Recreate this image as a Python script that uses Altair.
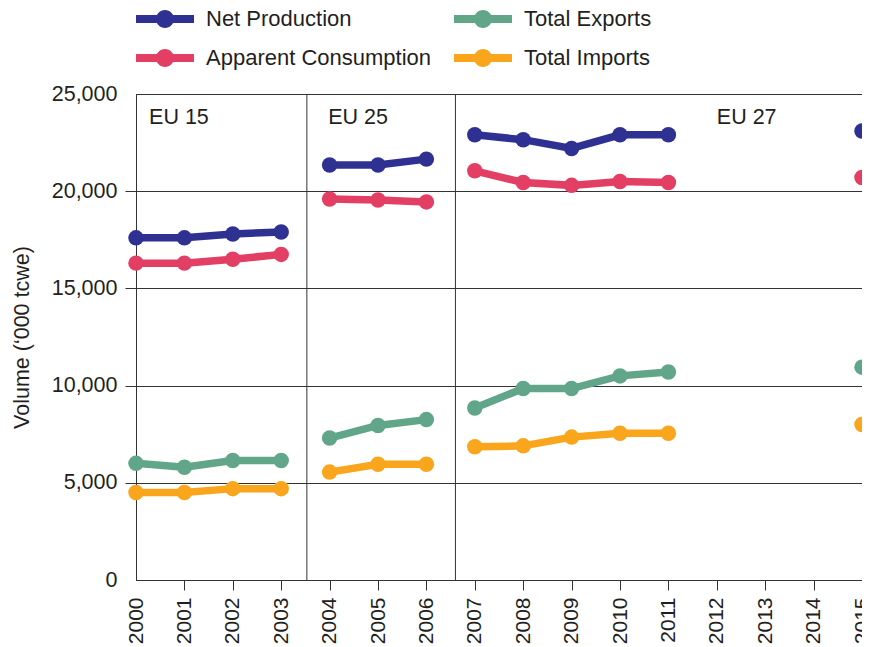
import altair as alt
import pandas as pd

# ---------------- data ----------------
years = [2000, 2001, 2002, 2003, 2004, 2005, 2006, 2007, 2008, 2009, 2010, 2011, 2015]
periods = ["EU 15"] * 4 + ["EU 25"] * 3 + ["EU 27"] * 5 + ["EU 27 (2015)"]

net_production = [17600, 17600, 17800, 17900, 21350, 21350, 21650,
                  22900, 22650, 22200, 22900, 22900, 23100]
apparent_consumption = [16300, 16300, 16500, 16750, 19600, 19550, 19450,
                        21050, 20450, 20300, 20500, 20450, 20700]
total_exports = [6000, 5800, 6150, 6150, 7300, 7950, 8250,
                 8850, 9850, 9850, 10500, 10700, 10950]
total_imports = [4500, 4500, 4700, 4700, 5550, 5950, 5950,
                 6850, 6900, 7350, 7550, 7550, 8000]

# legend order (filled column by column, two columns)
series_names = ["Net Production", "Apparent Consumption", "Total Exports", "Total Imports"]
series_colors = ["#2E3192", "#E33E63", "#62A68A", "#F9A61C"]
# same colours, listed in another order for the line layer's own scale
line_series = ["Apparent Consumption", "Net Production", "Total Exports", "Total Imports"]
line_colors = ["#E33E63", "#2E3192", "#62A68A", "#F9A61C"]

x_tick_years = list(range(2000, 2016))
y_ticks = [0, 5000, 10000, 15000, 20000, 25000]

era_labels = ["EU 15", "EU 25", "EU 27"]
era_label_x = [2000.27, 2003.97, 2012.0]
era_label_y = [23470, 23470, 23470]

era_boundaries = [2003.53, 2006.6]

# ---------------- tables ----------------
rows = []
for name, vals in zip(series_names,
                      [net_production, apparent_consumption, total_exports, total_imports]):
    for y, p, v in zip(years, periods, vals):
        rows.append({"year": y, "period": p, "series": name, "value": v})
df = pd.DataFrame(rows)

df_bounds = pd.DataFrame({"x": era_boundaries})
df_labels = pd.DataFrame({"x": era_label_x, "y": era_label_y, "label": era_labels})

FONT = "Liberation Sans"
DARK = "#333333"
TEXT = "#231F20"

x_scale = alt.Scale(domain=[2000, 2015], nice=False, zero=False)
y_scale = alt.Scale(domain=[0, 25000], nice=False)

x_axis = alt.Axis(
    values=x_tick_years, format="d", labelAngle=270, tickSize=10, labelPadding=7,
    grid=False, title=None, labelFontSize=21,
    tickOpacity={"condition": {"test": "datum.value == 2000", "value": 0}, "value": 1},
)
y_axis = alt.Axis(
    values=y_ticks, format=",d", grid=True, tickSize=11, labelPadding=8,
    labelFontSize=21.5, title="Volume (\u2018000 tcwe)", titleFontSize=21.5,
    titleFontWeight="normal", titlePadding=18, titleColor=TEXT,
    tickOpacity={"condition": {"test": "datum.value == 0 || datum.value == 25000", "value": 0}, "value": 1},
)

color_scale = alt.Scale(domain=series_names, range=series_colors)
stroke_scale = alt.Scale(domain=line_series, range=line_colors)

legend_symbol = (
    "M-1.222,-0.444L5.222,-0.444L5.222,0.444L-1.222,0.444Z "
    "M1,0A1,1 0 1,1 3,0A1,1 0 1,1 1,0Z"
)

legend = alt.Legend(
    title=None, orient="none", legendX=0, legendY=-86, columns=2,
    symbolType=legend_symbol, symbolSize=324, symbolStrokeWidth=0,
    symbolOpacity=1, labelFontSize=22, labelFont=FONT, labelColor=TEXT,
    labelOffset=48, rowPadding=17, columnPadding=22, padding=0,
    labelLimit=400,
)

base = alt.Chart(df)

rules = alt.Chart(df_bounds).mark_rule(color=DARK, strokeWidth=1).encode(
    x=alt.X("x:Q", scale=x_scale, axis=x_axis)
)

lines = base.mark_line(strokeWidth=7.5, opacity=1).encode(
    x=alt.X("year:Q", scale=x_scale, axis=x_axis),
    y=alt.Y("value:Q", scale=y_scale, axis=y_axis),
    stroke=alt.Stroke("series:N", scale=stroke_scale, legend=None),
    detail="period:N",
)

points = base.mark_circle(size=240, opacity=1).encode(
    x=alt.X("year:Q", scale=x_scale, axis=x_axis),
    y=alt.Y("value:Q", scale=y_scale, axis=y_axis),
    color=alt.Color("series:N", scale=color_scale, legend=legend),
)

labels = alt.Chart(df_labels).mark_text(
    align="left", baseline="alphabetic", fontSize=21.5, font=FONT, color=TEXT
).encode(
    x=alt.X("x:Q", scale=x_scale, axis=x_axis),
    y=alt.Y("y:Q", scale=y_scale, axis=y_axis),
    text="label:N",
)

chart = (
    alt.layer(rules, lines, points, labels)
    .properties(
        width=726, height=486,
        autosize=alt.AutoSizeParams(type="none"),
        padding={"left": 128, "top": 86, "right": 0, "bottom": 67},
        background="white",
    )
    .configure_view(stroke=DARK, strokeWidth=1)
    .configure_axis(
        domainColor=DARK, domainWidth=1, tickColor=DARK, tickWidth=1,
        gridColor=DARK, gridWidth=1, gridOpacity=1,
        labelFont=FONT, titleFont=FONT, labelColor=TEXT,
    )
)

chart.save("out.html", embed_options={"renderer": "svg", "actions": False})
